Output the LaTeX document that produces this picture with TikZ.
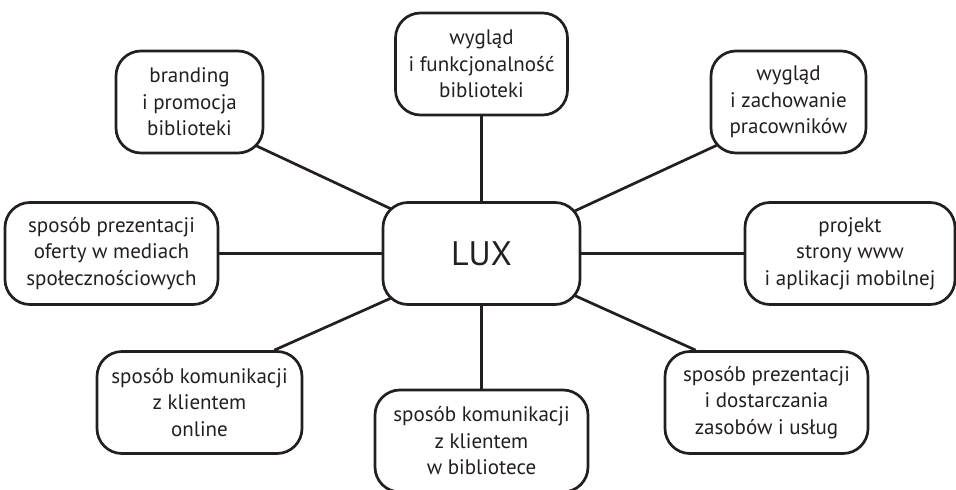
\documentclass[tikz,border=0pt]{standalone}
\usepackage{fontspec}
\setmainfont{PT Sans}
\usetikzlibrary{calc}
\definecolor{ink}{HTML}{231F20}
\tikzset{
  box/.style={draw=ink, line width=2.7pt, rounded corners=25pt, fill=white,
    minimum height=102pt, inner sep=0pt, align=center, text=ink,
    font=\fontsize{21}{26.5}\selectfont},
  link/.style={draw=ink, line width=2.7pt}
}
\begin{document}
\begin{tikzpicture}[x=1pt,y=-1pt]
\useasboundingbox (0,0) rectangle (956,490);
\begin{scope}
\clip (0,0) rectangle (956,490);
\node[box, minimum width=197pt, font=\fontsize{34}{40}\selectfont] (lux) at (481.5,253.5) {LUX};
\node[box, minimum width=147pt] (b1) at (189.5,102) {branding\\i promocja\\biblioteki};
\node[box, minimum width=172pt] (b2) at (481.5,64) {wygląd\\i funkcjonalność\\biblioteki};
\node[box, minimum width=155pt] (b3) at (788.5,102) {wygląd\\i zachowanie\\pracowników};
\node[box, minimum width=213pt] (b4) at (111.5,253.5) {sposób prezentacji\\oferty w mediach\\społecznościowych};
\node[box, minimum width=210pt] (b5) at (850,253.5) {projekt\\strony www\\i aplikacji mobilnej};
\node[box, minimum width=205pt] (b6) at (199.5,402.5) {sposób komunikacji\\z klientem\\online};
\node[box, minimum width=213pt] (b7) at (481.5,441) {sposób komunikacji\\z klientem\\w bibliotece};
\node[box, minimum width=203pt] (b8) at (766.5,402.5) {sposób prezentacji\\i dostarczania\\zasobów i usług};
\end{scope}
\draw[link] ($(b1.south east)+(-9,-9)$) -- ($(lux.north west)+(10,8)$);
\draw[link] (b2.south) -- (lux.north);
\draw[link] ($(b3.south west)+(7,-9)$) -- ($(lux.north east)+(-7,10)$);
\draw[link] (b4.east) -- (lux.west);
\draw[link] (lux.east) -- (b5.west);
\draw[link] ($(b6.north east)+(-29,0)$) -- ($(lux.south west)+(10,-8)$);
\draw[link] (lux.south) -- (b7.north);
\draw[link] ($(lux.south east)+(-6,-10)$) -- ($(b8.north west)+(32,0)$);
\end{tikzpicture}
\end{document}
